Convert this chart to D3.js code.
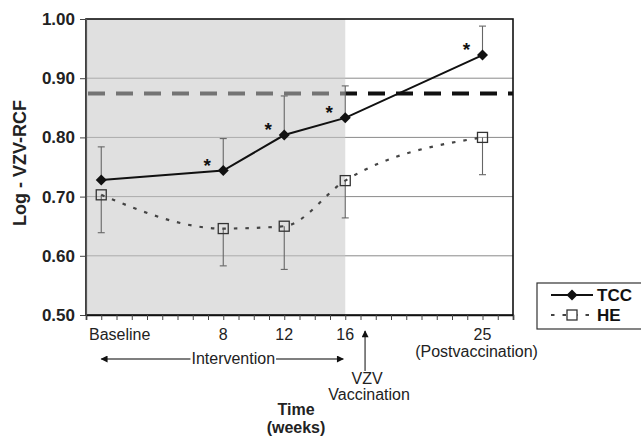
<!DOCTYPE html>
<meta charset="utf-8">
<style>
  body { margin: 0; background: #fff; }
  svg { font-family: "Liberation Sans", Arial, Helvetica, sans-serif; }
</style>
<script src="https://d3js.org/d3.v7.min.js"></script>
<body>
</body>
<script>
// values
var weeks = [0, 8, 12, 16, 25];
var weekLabels = ["Baseline", "8", "12", "16", "25"];
var tcc = [0.728, 0.744, 0.804, 0.833, 0.939];
var tccUpper = [0.784, 0.798, 0.870, 0.887, 0.988];
var he = [0.703, 0.646, 0.650, 0.727, 0.800];
var heLower = [0.639, 0.583, 0.577, 0.664, 0.737];
var starred = [false, true, true, true, true];
var yTicks = [0.50, 0.60, 0.70, 0.80, 0.90, 1.00];
var threshold = 0.874;
var interventionEnd = 16;
var vaccinationWeek = 17.3;

var width = 641,
    height = 440,
    plotL = 86, plotT = 19, plotR = 513, plotB = 315;

var svg = d3.select("body").append("svg")
    .attr("width", width)
    .attr("height", height);

var x = d3.scaleLinear().domain([-1, 27]).range([plotL, plotR]);
var y = d3.scaleLinear().domain([0.5, 1.0]).range([plotB, plotT]);

// grid lines
svg.selectAll(".grid").data(yTicks.slice(1, -1)).enter().append("line")
    .attr("x1", plotL).attr("x2", plotR)
    .attr("y1", function(d) { return y(d); })
    .attr("y2", function(d) { return y(d); })
    .attr("stroke", "#8a8a8a")
    .attr("stroke-width", 1);

// dashed reference level
svg.append("line")
    .attr("x1", plotL + 2).attr("x2", plotR)
    .attr("y1", y(threshold)).attr("y2", y(threshold))
    .attr("stroke", "#111")
    .attr("stroke-width", 4)
    .attr("stroke-dasharray", "17,11");

// intervention period shading, laid over the grid
svg.append("rect")
    .attr("x", plotL).attr("y", plotT)
    .attr("width", x(interventionEnd) - plotL)
    .attr("height", plotB - plotT)
    .attr("fill", "#c6c6c6")
    .attr("fill-opacity", 0.55);

// frame
svg.append("rect")
    .attr("x", plotL).attr("y", plotT)
    .attr("width", plotR - plotL).attr("height", plotB - plotT)
    .attr("fill", "none")
    .attr("stroke", "#111")
    .attr("stroke-width", 1.6);

// axes
var yAxis = svg.append("g")
    .attr("transform", "translate(" + plotL + ",0)")
    .call(d3.axisLeft(y).tickValues(yTicks).tickFormat(d3.format(".2f")).tickSize(6).tickPadding(5));
yAxis.select(".domain").attr("stroke", "#555").attr("stroke-width", 1.2);
yAxis.selectAll(".tick line").attr("stroke", "#444");
yAxis.selectAll("text")
    .attr("font-size", 17).attr("font-weight", "bold").attr("fill", "#222");

var xAxis = svg.append("g")
    .attr("transform", "translate(0," + plotB + ")")
    .call(d3.axisBottom(x).tickValues(d3.range(-1, 28)).tickFormat("").tickSize(5));
xAxis.select(".domain").attr("stroke", "#111").attr("stroke-width", 1.6);
xAxis.selectAll(".tick line").attr("stroke", "#444");

// week labels
svg.selectAll(".wlab").data(weekLabels).enter().append("text")
    .attr("x", function(d, i) { return i == 0 ? x(-1) + 3 : x(weeks[i]); })
    .attr("y", 340)
    .attr("text-anchor", function(d, i) { return i == 0 ? "start" : "middle"; })
    .attr("font-size", 16)
    .attr("fill", "#222")
    .text(function(d) { return d; });

// error bars
var cap = 3.5;
function errorBars(vals, ends, col) {
    var g = svg.append("g").attr("stroke", col).attr("stroke-width", 1.1);
    weeks.forEach(function(w, i) {
        g.append("line").attr("x1", x(w)).attr("x2", x(w))
            .attr("y1", y(vals[i])).attr("y2", y(ends[i]));
        g.append("line").attr("x1", x(w) - cap).attr("x2", x(w) + cap)
            .attr("y1", y(ends[i])).attr("y2", y(ends[i]));
    });
}
errorBars(tcc, tccUpper, "#666");
errorBars(he, heLower, "#666");

var line = d3.line()
    .x(function(d) { return x(d[0]); })
    .y(function(d) { return y(d[1]); });

// HE series
svg.append("path")
    .datum(d3.zip(weeks, he))
    .attr("d", line.curve(d3.curveMonotoneX))
    .attr("fill", "none")
    .attr("stroke", "#444")
    .attr("stroke-width", 2.2)
    .attr("stroke-dasharray", "3.5,8");

svg.selectAll(".hemark").data(he).enter().append("rect")
    .attr("x", function(d, i) { return x(weeks[i]) - 5; })
    .attr("y", function(d) { return y(d) - 5; })
    .attr("width", 10).attr("height", 10)
    .attr("fill", "none")
    .attr("stroke", "#333")
    .attr("stroke-width", 1.3);

// TCC series
svg.append("path")
    .datum(d3.zip(weeks, tcc))
    .attr("d", line.curve(d3.curveLinear))
    .attr("fill", "none")
    .attr("stroke", "#111")
    .attr("stroke-width", 2);

var diamond = "M0,-5.5L5.5,0L0,5.5L-5.5,0Z";
svg.selectAll(".tccmark").data(tcc).enter().append("path")
    .attr("transform", function(d, i) { return "translate(" + x(weeks[i]) + "," + y(d) + ")"; })
    .attr("d", diamond)
    .attr("fill", "#111");

// significance stars
svg.selectAll(".star").data(tcc.filter(function(d, i) { return starred[i]; })).enter().append("text")
    .attr("x", function(d) { return x(weeks[tcc.indexOf(d)]) - 16; })
    .attr("y", function(d) { return y(d) + 1; })
    .attr("text-anchor", "middle")
    .attr("font-size", 19)
    .attr("font-weight", "bold")
    .attr("fill", "#111")
    .text("*");

// y title
svg.append("text")
    .attr("transform", "translate(26,163) rotate(-90)")
    .attr("text-anchor", "middle")
    .attr("font-size", 18)
    .attr("font-weight", "bold")
    .attr("fill", "#222")
    .text("Log - VZV-RCF");

// intervention arrow
var arrY = 359;
var defs = svg.append("defs");
defs.append("marker").attr("id", "ah")
    .attr("viewBox", "0 0 10 10").attr("refX", 9).attr("refY", 5)
    .attr("markerWidth", 9).attr("markerHeight", 7)
    .attr("markerUnits", "userSpaceOnUse")
    .attr("orient", "auto-start-reverse")
    .append("path").attr("d", "M0,0L10,5L0,10Z").attr("fill", "#111");

var intText = svg.append("text")
    .attr("x", (x(0) + x(interventionEnd)) / 2 + 10)
    .attr("y", arrY + 5)
    .attr("text-anchor", "middle")
    .attr("font-size", 16)
    .attr("fill", "#222")
    .text("Intervention");
var bb = intText.node().getBBox();
svg.append("line")
    .attr("x1", bb.x - 1).attr("x2", x(0))
    .attr("y1", arrY).attr("y2", arrY)
    .attr("stroke", "#555").attr("stroke-width", 1.6)
    .attr("marker-end", "url(#ah)");
svg.append("line")
    .attr("x1", bb.x + bb.width + 1).attr("x2", x(interventionEnd) - 2)
    .attr("y1", arrY).attr("y2", arrY)
    .attr("stroke", "#555").attr("stroke-width", 1.6)
    .attr("marker-end", "url(#ah)");

// vaccination arrow
svg.append("line")
    .attr("x1", x(vaccinationWeek)).attr("x2", x(vaccinationWeek))
    .attr("y1", 371).attr("y2", 331)
    .attr("stroke", "#666").attr("stroke-width", 1.6)
    .attr("marker-end", "url(#ah)");
svg.append("text")
    .attr("x", x(vaccinationWeek) + 2).attr("y", 384)
    .attr("text-anchor", "middle").attr("font-size", 16).attr("fill", "#222")
    .text("VZV");
svg.append("text")
    .attr("x", x(vaccinationWeek) + 4).attr("y", 400)
    .attr("text-anchor", "middle").attr("font-size", 16).attr("fill", "#222")
    .text("Vaccination");

svg.append("text")
    .attr("x", x(25) - 6).attr("y", 357)
    .attr("text-anchor", "middle").attr("font-size", 16).attr("fill", "#222")
    .text("(Postvaccination)");

// x title
svg.append("text")
    .attr("x", 296).attr("y", 415)
    .attr("text-anchor", "middle").attr("font-size", 16).attr("font-weight", "bold").attr("fill", "#222")
    .text("Time");
svg.append("text")
    .attr("x", 296).attr("y", 433)
    .attr("text-anchor", "middle").attr("font-size", 16).attr("font-weight", "bold").attr("fill", "#222")
    .text("(weeks)");

// legend
var lg = svg.append("g").attr("transform", "translate(537,283)");
lg.append("rect")
    .attr("width", 115).attr("height", 46)
    .attr("fill", "#fff").attr("stroke", "#333").attr("stroke-width", 1.2);
lg.append("line").attr("x1", 14).attr("x2", 56).attr("y1", 12).attr("y2", 12)
    .attr("stroke", "#111").attr("stroke-width", 2);
lg.append("path").attr("d", diamond).attr("transform", "translate(35,12)").attr("fill", "#111");
lg.append("text").attr("x", 60).attr("y", 18)
    .attr("font-size", 17).attr("font-weight", "bold").attr("fill", "#111").text("TCC");
lg.append("line").attr("x1", 14).attr("x2", 56).attr("y1", 32).attr("y2", 32)
    .attr("stroke", "#444").attr("stroke-width", 2.2).attr("stroke-dasharray", "3.5,8");
lg.append("rect").attr("x", 30).attr("y", 27).attr("width", 10).attr("height", 10)
    .attr("fill", "#fff").attr("stroke", "#333").attr("stroke-width", 1.3);
lg.append("text").attr("x", 60).attr("y", 38)
    .attr("font-size", 17).attr("font-weight", "bold").attr("fill", "#111").text("HE");
</script>
